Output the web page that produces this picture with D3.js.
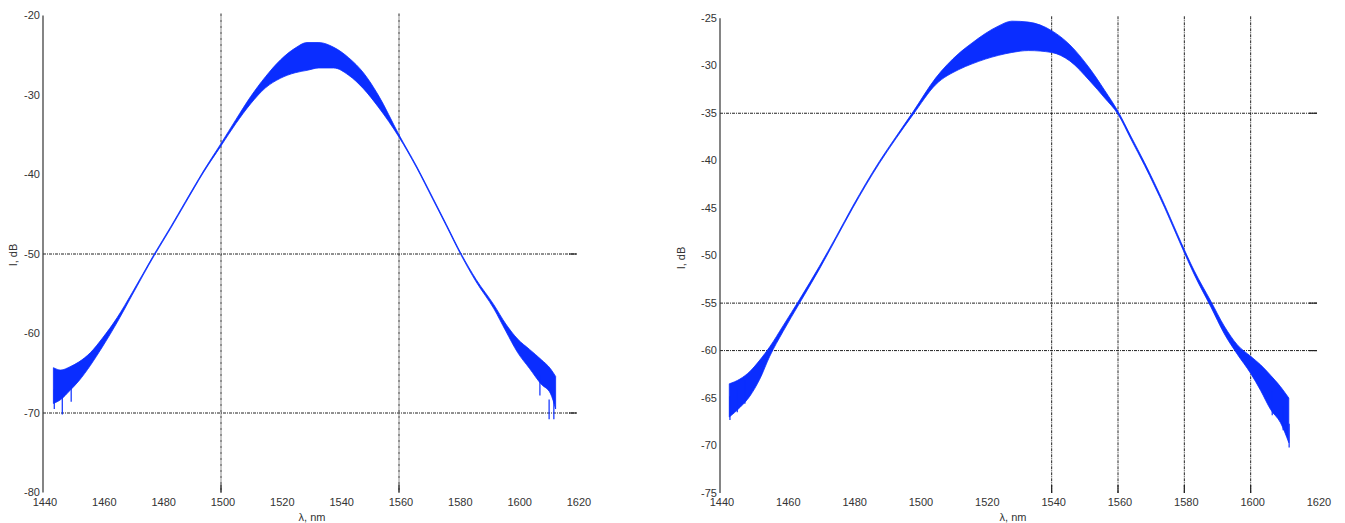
<!DOCTYPE html>
<html>
<head>
<meta charset="utf-8">
<script src="https://cdn.jsdelivr.net/npm/d3@7"></script>
<style>
  body { margin: 0; background: #fff; }
  svg text { font-family: "Liberation Sans Narrow", "Liberation Sans", Arial, sans-serif; fill: #333; }
</style>
</head>
<body>
<svg id="chart" width="1345" height="523"></svg>
<script>
// left panel: spectrum, wavelength (nm) vs intensity (dB), upper / lower envelope
const leftLambda = [1443.5, 1446, 1449, 1452, 1456, 1460, 1465, 1470, 1477.5, 1483, 1488, 1494, 1500, 1505, 1510, 1515, 1520, 1525, 1529, 1533, 1538, 1543, 1548, 1553, 1560, 1566, 1571.5, 1576, 1581, 1586, 1592, 1596, 1600, 1604, 1608, 1611, 1612.8];
const leftUpper = [-64.3, -64.6, -64.2, -63.6, -62.4, -60.6, -58.0, -54.9, -50.0, -46.6, -43.4, -39.6, -36.1, -33.1, -30.2, -27.7, -25.6, -24.1, -23.4, -23.4, -24.0, -25.3, -27.2, -30.0, -35.0, -39.0, -43.0, -46.3, -50.0, -53.2, -56.4, -58.8, -60.7, -62.0, -63.3, -64.4, -65.4];
const leftLower = [-68.8, -68.3, -67.2, -66.0, -64.0, -61.7, -58.6, -55.2, -50.2, -46.8, -43.6, -39.8, -36.4, -33.6, -31.1, -29.1, -27.9, -27.2, -26.9, -26.6, -26.6, -27.5, -29.2, -31.5, -35.3, -39.2, -43.2, -46.5, -50.2, -53.5, -56.9, -59.7, -62.4, -64.4, -66.4, -67.5, -69.5];
const leftSpikes = [[1443.8, -69.5], [1446.5, -70.2], [1449.5, -68.6], [1607.5, -67.8], [1610.6, -70.8], [1612.2, -70.8]];
const leftYTicks = [-20, -30, -40, -50, -60, -70, -80];
const leftHGrid = [-50, -70];
const leftVGrid = [1500, 1560];

// right panel
const rightLambda = [1442.8, 1446, 1449, 1452, 1455, 1459, 1464, 1470, 1475, 1480, 1488, 1493, 1498.3, 1505, 1512, 1516, 1520, 1524, 1528, 1533, 1540, 1545.5, 1551.5, 1556, 1560, 1564, 1568, 1574, 1579, 1583, 1588, 1592, 1596, 1600, 1603, 1606, 1609, 1611.5];
const rightUpper = [-63.5, -63.0, -62.2, -61.0, -59.6, -57.4, -54.6, -51.1, -48.0, -44.8, -40.1, -37.5, -34.8, -31.3, -28.7, -27.6, -26.6, -25.8, -25.3, -25.4, -26.3, -27.8, -30.3, -32.6, -34.8, -37.5, -40.2, -44.6, -48.6, -51.6, -54.8, -57.4, -59.4, -60.6, -61.5, -62.6, -63.8, -65.0];
const rightLower = [-67.0, -66.0, -64.8, -63.0, -60.6, -58.0, -55.0, -51.4, -48.2, -45.0, -40.3, -37.7, -35.1, -32.0, -30.4, -29.8, -29.3, -28.9, -28.6, -28.4, -28.6, -29.5, -31.6, -33.4, -35.1, -37.8, -40.5, -44.9, -48.9, -52.0, -55.4, -58.2, -60.4, -62.4, -64.2, -66.2, -67.6, -69.7];
const rightSpikes = [[1443.0, -67.3], [1445.2, -66.5], [1447.5, -65.6], [1606.5, -66.8], [1609.8, -68.4], [1611.6, -70.2]];
const rightYTicks = [-25, -30, -35, -40, -45, -50, -55, -60, -65, -70, -75];
const rightHGrid = [-35, -55, -60];
const rightVGrid = [1540, 1560, 1580, 1600];

const xTicks = [1440, 1460, 1480, 1500, 1520, 1540, 1560, 1580, 1600, 1620];

const svg = d3.select("#chart");
const blue = "#0a2dff";

function drawPanel(p) {
    const x = d3.scaleLinear().domain([1440, 1620]).range([p.x0, p.x1]);
    const y = d3.scaleLinear().domain(p.yDomain).range([p.y0, p.y1]);
    const g = svg.append("g");

    // grid lines (dash-dot)
    g.selectAll(".hg").data(p.hGrid).join("line")
        .attr("x1", p.x0).attr("x2", p.x1)
        .attr("y1", d => y(d)).attr("y2", d => y(d))
        .attr("stroke", "#222").attr("stroke-width", 1)
        .attr("stroke-dasharray", "3,1,1,1");
    g.selectAll(".hgt").data(p.hGrid).join("line")
        .attr("x1", p.x1 - 8).attr("x2", p.x1)
        .attr("y1", d => y(d)).attr("y2", d => y(d))
        .attr("stroke", "#222").attr("stroke-width", 1.2);
    g.selectAll(".vg").data(p.vGrid).join("line")
        .attr("x1", d => x(d)).attr("x2", d => x(d))
        .attr("y1", p.y1 - 2).attr("y2", p.y0)
        .attr("stroke", "#222").attr("stroke-width", 1)
        .attr("stroke-dasharray", "3,1,1,1");
    g.selectAll(".vgt").data(p.vGrid).join("line")
        .attr("x1", d => x(d)).attr("x2", d => x(d))
        .attr("y1", p.y0 - 8).attr("y2", p.y0)
        .attr("stroke", "#222").attr("stroke-width", 1.2);

    // spectrum band
    const pts = p.lambda.map((l, i) => ({ l: l, hi: p.upper[i], lo: p.lower[i] }));
    g.append("path").datum(pts)
        .attr("d", d3.area().x(d => x(d.l)).y0(d => y(d.lo)).y1(d => y(d.hi)).curve(d3.curveMonotoneX))
        .attr("fill", blue).attr("stroke", blue).attr("stroke-width", 0.8);
    g.selectAll(".sp").data(p.spikes).join("line")
        .attr("x1", d => x(d[0])).attr("x2", d => x(d[0]))
        .attr("y1", d => y(d[1] + 2.5)).attr("y2", d => y(d[1]))
        .attr("stroke", blue).attr("stroke-width", 1.2);

    // y axis
    g.append("line").attr("x1", p.x0).attr("x2", p.x0)
        .attr("y1", y(p.yDomain[1])).attr("y2", y(p.yDomain[0]))
        .attr("stroke", "#333").attr("stroke-width", 1.2);
    g.selectAll(".yt").data(p.yTicks).join("text")
        .attr("x", p.x0 - 3).attr("y", d => y(d)).attr("dy", "0.32em")
        .attr("text-anchor", "end").attr("font-size", 11).text(d => d);
    g.selectAll(".xt").data(xTicks).join("text")
        .attr("x", d => x(d) + 2).attr("y", p.y0 + 13)
        .attr("text-anchor", "middle").attr("font-size", 11).text(d => d);

    g.append("text").attr("x", p.xLabelX).attr("y", 521)
        .attr("text-anchor", "middle").attr("font-size", 11).text("λ, nm");
    g.append("text").attr("transform", `translate(${p.yLabelX},${p.yLabelY}) rotate(-90)`)
        .attr("text-anchor", "middle").attr("font-size", 11).text("I, dB");
}

drawPanel({
    x0: 43, x1: 577, y0: 492.5, y1: 15.5, yDomain: [-80, -20],
    lambda: leftLambda, upper: leftUpper, lower: leftLower, spikes: leftSpikes,
    yTicks: leftYTicks, hGrid: leftHGrid, vGrid: leftVGrid,
    xLabelX: 312, yLabelX: 17, yLabelY: 255
});
drawPanel({
    x0: 720, x1: 1317, y0: 493, y1: 18.3, yDomain: [-75, -25],
    lambda: rightLambda, upper: rightUpper, lower: rightLower, spikes: rightSpikes,
    yTicks: rightYTicks, hGrid: rightHGrid, vGrid: rightVGrid,
    xLabelX: 1013, yLabelX: 685, yLabelY: 258
});
</script>
</body>
</html>
